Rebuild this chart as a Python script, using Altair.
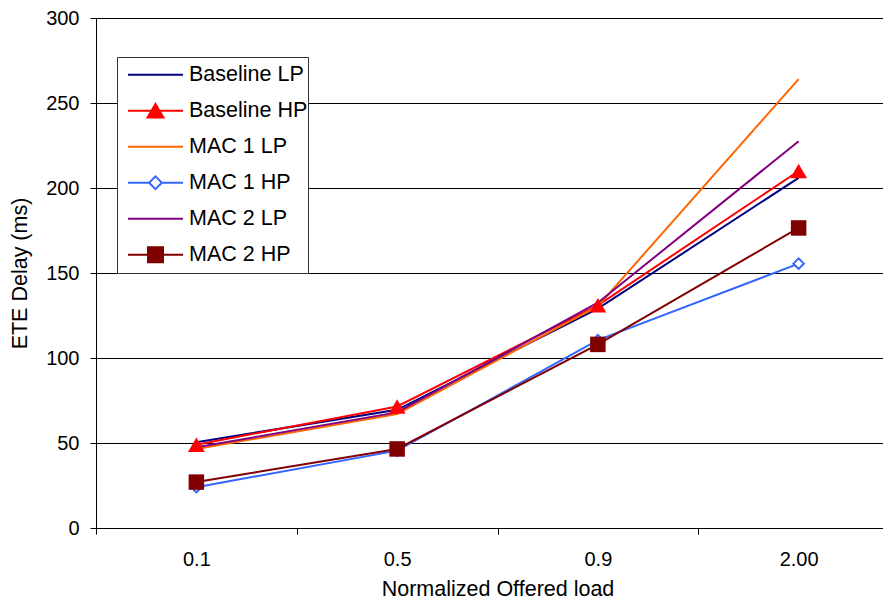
import altair as alt
import pandas as pd

categories = ["0.1", "0.5", "0.9", "2.00"]
series_names = ["Baseline LP", "Baseline HP", "MAC 1 LP", "MAC 1 HP", "MAC 2 LP", "MAC 2 HP"]
baseline_lp = [50.5, 69.5, 129, 206]
baseline_hp = [49, 71.5, 131, 210]
mac1_lp = [46.5, 67, 130.5, 264]
mac1_hp = [24, 45.5, 110.5, 155.5]
mac2_lp = [47.5, 68, 132.5, 227.5]
mac2_hp = [27, 46.5, 108, 176.5]
y_ticks = [0, 50, 100, 150, 200, 250, 300]

line_colors = ["#000080", "#FF0000", "#FF6600", "#3366FF", "#800080", "#800000"]
fill_colors = ["#000080", "#FF0000", "#FF6600", "#FFFFFF", "#800080", "#800000"]
legend_paths = [
    "M-0.714,0H0.857",
    "M-0.714,0H0.857M0.071,-0.193L0.297,0.193L-0.155,0.193Z",
    "M-0.714,0H0.857",
    "M-0.714,0H-0.111M0.253,0H0.857M0.071,-0.182L0.253,0L0.071,0.182L-0.111,0Z",
    "M-0.714,0H0.857",
    "M-0.714,0H0.857M-0.143,-0.214H0.285V0.214H-0.143Z",
]

all_values = [baseline_lp, baseline_hp, mac1_lp, mac1_hp, mac2_lp, mac2_hp]
rows = []
for name, vals in zip(series_names, all_values):
    for c, v in zip(categories, vals):
        rows.append({"series": name, "load": c, "value": v})
df = pd.DataFrame(rows)

FONT = "Liberation Sans"

x_enc = alt.X(
    "load:N",
    sort=categories,
    scale=alt.Scale(type="band", range=[0, 803], paddingInner=0, paddingOuter=0),
    axis=alt.Axis(
        title="Normalized Offered load",
        tickBand="extent",
        labelAngle=0,
        grid=False,
        tickSize=6,
        labelPadding=15,
        titlePadding=9,
    ),
)
y_enc = alt.Y(
    "value:Q",
    scale=alt.Scale(domain=[0, 300], nice=False, zero=True),
    axis=alt.Axis(
        title="ETE Delay (ms)",
        values=y_ticks,
        grid=True,
        gridColor="#000000",
        gridWidth=1,
        tickSize=6,
        labelPadding=11,
        titlePadding=14,
    ),
)

base = alt.Chart(df)

lines = base.mark_line(strokeWidth=2).encode(
    x=x_enc,
    y=y_enc,
    color=alt.Color("series:N", scale=alt.Scale(domain=series_names, range=line_colors), legend=None),
    detail="series:N",
)

tri = base.transform_filter(alt.datum.series == "Baseline HP").mark_point(
    shape="triangle-up", filled=True, fill="#FF0000", stroke="#FF0000", strokeWidth=0, size=280, opacity=1
).encode(x=x_enc, y=y_enc)

dia = base.transform_filter(alt.datum.series == "MAC 1 HP").mark_point(
    shape="diamond", filled=True, fill="#FFFFFF", stroke="#3366FF", strokeWidth=2, size=110, opacity=1
).encode(x=x_enc, y=y_enc)

sq = base.transform_filter(alt.datum.series == "MAC 2 HP").mark_point(
    shape="square", filled=True, fill="#800000", stroke="#800000", strokeWidth=0, size=240, opacity=1
).encode(x=x_enc, y=y_enc)

leg = alt.Legend(
    title=None,
    orient="none",
    legendX=21,
    legendY=39,
    padding=0,
    strokeColor="#333333",
    fillColor="#FFFFFF",
    symbolSize=4900,
    symbolStrokeWidth=2,
    symbolOpacity=1,
    clipHeight=35.5,
    rowPadding=0,
    labelOffset=0,
    labelFontSize=21.5,
    labelFont=FONT,
    labelColor="#000000",
    labelLimit=300,
    labelExpr="datum.label + ' '",
)

legend_layer = base.mark_point(filled=True, opacity=0, strokeWidth=2).encode(
    x=x_enc,
    y=y_enc,
    fill=alt.Fill("series:N", scale=alt.Scale(domain=series_names, range=fill_colors), legend=leg),
    stroke=alt.Stroke("series:N", scale=alt.Scale(domain=series_names, range=line_colors), legend=leg),
    shape=alt.Shape("series:N", scale=alt.Scale(domain=series_names, range=legend_paths), legend=leg),
)

chart = alt.layer(legend_layer, lines, tri, dia, sq).properties(
    width=787,
    height=510,
    autosize=alt.AutoSizeParams(type="none"),
    padding={"left": 88, "top": 10, "right": 0, "bottom": 73},
).configure_view(stroke=None).configure_axis(
    labelFont=FONT,
    titleFont=FONT,
    labelFontSize=20,
    titleFontSize=21.5,
    titleFontWeight="normal",
    labelColor="#000000",
    titleColor="#000000",
    tickColor="#000000",
    domainColor="#000000",
)

chart.save("out.html", embed_options={"renderer": "svg", "actions": False})
